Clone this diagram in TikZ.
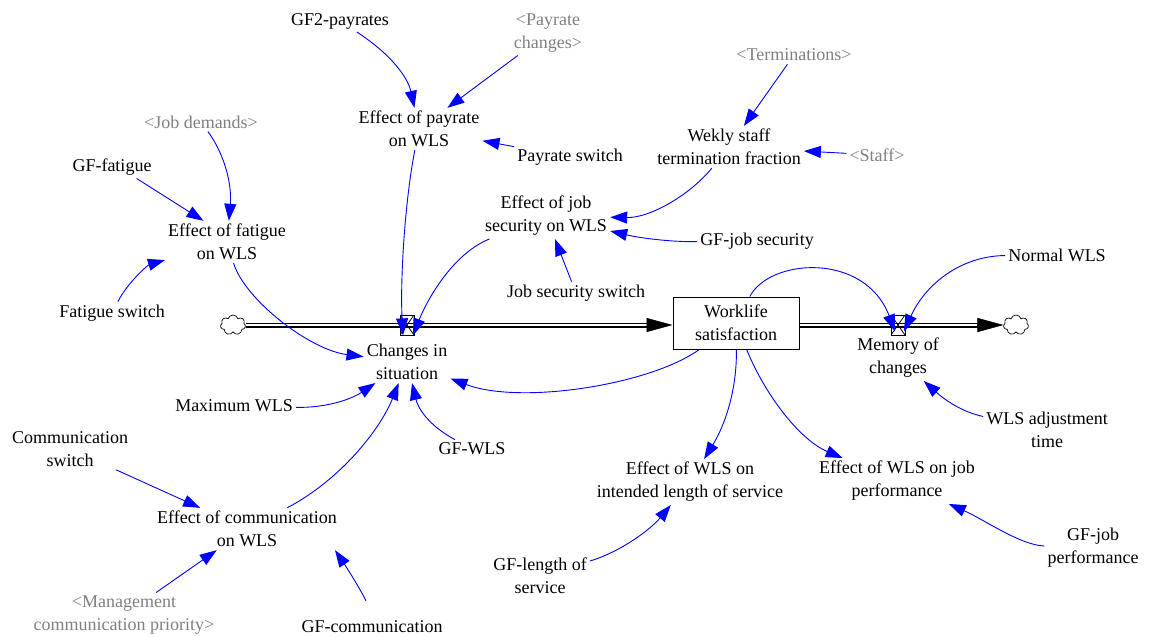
\documentclass[tikz,border=0pt]{standalone}
\usepackage{fontspec}
\setmainfont{Liberation Serif}
\newfontfamily\diagramfont{Liberation Serif}
\usetikzlibrary{arrows.meta,shapes.symbols,calc}
\definecolor{linkblue}{RGB}{0,0,255}
\definecolor{shadowgray}{RGB}{128,128,128}

\begin{document}
\begin{tikzpicture}[x=1pt,y=-1pt,
  font=\diagramfont\fontsize{18}{23}\selectfont,
  var/.style={align=center, inner sep=3pt},
  shadowvar/.style={var, text=shadowgray},
  link/.style={draw=linkblue, line width=0.9pt, -{Triangle[length=17pt,width=12pt]}},
  pipe/.style={draw=black, double=white, line width=1.1pt, double distance=2.8pt},
  pipehead/.style={-{Triangle[length=26pt,width=14pt]}, line width=0.6pt},
  stockbox/.style={draw, line width=1pt, minimum width=126pt, minimum height=52pt,
    align=center, inner sep=0pt, fill=white},
  valve/.style={draw, line width=0.8pt, minimum width=14pt, minimum height=20pt, inner sep=0pt,
    path picture={\draw[line width=0.8pt]
      (path picture bounding box.north west) -- (path picture bounding box.south east)
      (path picture bounding box.north east) -- (path picture bounding box.south west);}},
  sink/.style={cloud, draw, cloud puffs=7, aspect=1.25, minimum width=25pt, minimum height=20pt,
    inner sep=0pt, line width=0.7pt}
]
\useasboundingbox (0,0) rectangle (1152,637);

% stock, clouds and valves
\node[sink] (c1) at (233,325) {};
\node[sink] (c2) at (1016,325) {};
\node[stockbox] (wls) at (736,323) {Worklife\\satisfaction};

% flow pipes
\draw[pipe] (c1.east) -- ($(c1.east -| wls.west)+(-20pt,0)$);
\draw[pipehead] ($(c1.east -| wls.west)+(-26pt,0)$) -- (c1.east -| wls.west);
\draw[pipe] (wls.east |- c2.west) -- ($(c2.west)+(-20pt,0)$);
\draw[pipehead] ($(c2.west)+(-26pt,0)$) -- (c2.west);

\node[valve] (v1) at (407,325) {};
\node[valve] (v2) at (898,325) {};

% variables
\node[var] (gf2) at (340,21) {GF2-payrates};
\node[shadowvar] (prc) at (548,33) {<Payrate\\changes>};
\node[var] (eop) at (419,129) {Effect of payrate\\on WLS};
\node[var] (psw) at (570,157) {Payrate switch};
\node[shadowvar] (term) at (794,55) {<Terminations>};
\node[var] (wstf) at (729,147) {Wekly staff\\termination fraction};
\node[shadowvar] (staff) at (877,155) {<Staff>};
\node[var] (ejs) at (546,216) {Effect of job\\security on WLS};
\node[var] (gfjs) at (757,241) {GF-job security};
\node[var] (jss) at (576,293) {Job security switch};
\node[shadowvar] (jd) at (201,122) {<Job demands>};
\node[var] (gff) at (112,167) {GF-fatigue};
\node[var] (eof) at (227,242) {Effect of fatigue\\on WLS};
\node[var] (fsw) at (112,313) {Fatigue switch};
\node[var] (cis) at (407,362) {Changes in\\situation};
\node[var] (moc) at (898,358) {Memory of\\changes};
\node[var] (nwls) at (1057,255) {Normal WLS};
\node[var] (wadj) at (1047,430) {WLS adjustment\\time};
\node[var] (elos) at (690,482) {Effect of WLS on\\intended length of service};
\node[var] (ejp) at (897,481) {Effect of WLS on job\\performance};
\node[var] (gfjp) at (1093,548) {GF-job\\performance};
\node[var] (gflos) at (540,576) {GF-length of\\service};
\node[var] (maxw) at (234,406) {Maximum WLS};
\node[var] (gfwls) at (472,449) {GF-WLS};
\node[var] (csw) at (70,449) {Communication\\switch};
\node[var] (eoc) at (247,529) {Effect of communication\\on WLS};
\node[shadowvar] (mcp) at (124,615) {<Management\\communication priority>};
\node[var] (gfc) at (372,627) {GF-communication};

% information links
\draw[link] (gf2) .. controls (392,55) and (408,78) .. (eop);
\draw[link] (prc) -- (eop);
\draw[link] (psw) -- (eop);
\draw[link] (eop) .. controls (405,200) and (400,280) .. ([xshift=-4pt]v1.south);
\draw[link] (ejs) .. controls (450,255) and (425,305) .. ([xshift=6pt]v1.south);
\draw[link] (term) -- (wstf);
\draw[link] (staff) -- (wstf);
\draw[link] (wstf) .. controls (690,195) and (650,218) .. (ejs);
\draw[link] (gfjs) .. controls (670,242) and (640,238) .. (ejs);
\draw[link] (jss) -- (ejs);
\draw[link] (jd) .. controls (225,155) and (232,185) .. (eof);
\draw[link] (gff.-25) -- (eof.138);
\draw[link] (fsw) .. controls (128,282) and (148,265) .. (eof);
\draw[link] (eof) .. controls (245,300) and (310,350) .. (cis);
\draw[link] (wls) .. controls (650,385) and (520,405) .. (cis);
\draw[link] (maxw) .. controls (325,408) and (350,400) .. (cis);
\draw[link] (gfwls) .. controls (428,425) and (418,408) .. (cis);
\draw[link] (eoc) .. controls (340,480) and (380,430) .. (cis);
\draw[link] (csw) -- (eoc);
\draw[link] (mcp) -- (eoc);
\draw[link] ([shift={(-6pt,17pt)}]gfc.north) .. controls (358,585) and (345,565) .. ([xshift=-5pt]eoc.south east);
\draw[link] (wls) .. controls (770,258) and (865,252) .. ([shift={(-3pt,4pt)}]v2.south);
\draw[link] (nwls) .. controls (960,256) and (925,285) .. ([shift={(6pt,4pt)}]v2.south);
\draw[link] (wadj) .. controls (962,412) and (945,400) .. (moc);
\draw[link] (wls) .. controls (737,390) and (725,425) .. (elos);
\draw[link] (wls) .. controls (765,395) and (800,440) .. (ejp);
\draw[link] (gflos) .. controls (620,552) and (650,530) .. (elos);
\draw[link] (gfjp) .. controls (1020,545) and (985,520) .. (ejp);
\end{tikzpicture}
\end{document}
